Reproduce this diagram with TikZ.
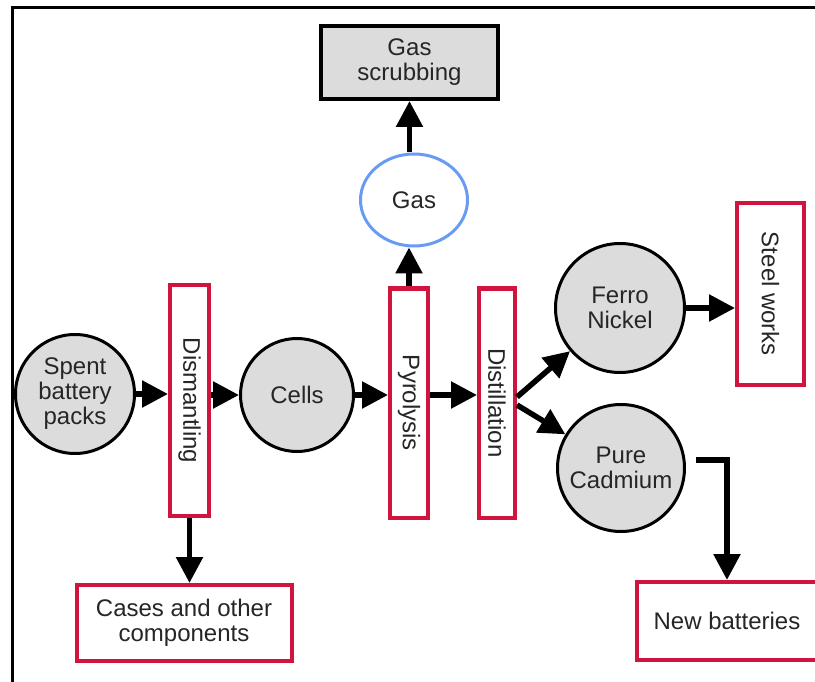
\documentclass[tikz,border=0pt]{standalone}
\usepackage{fontspec}
\setmainfont{Liberation Sans}
\usetikzlibrary{arrows.meta,shapes.geometric}
\definecolor{boxred}{RGB}{208,20,62}
\definecolor{gasblue}{RGB}{105,155,245}
\definecolor{nodegray}{RGB}{220,220,220}

\begin{document}
\begin{tikzpicture}[x=1pt,y=-1pt,>={Triangle[length=26pt,width=26pt]}]
 \tikzstyle{txt} = [font=\fontsize{24}{25}\selectfont,text=black!85,align=center,inner sep=0]
 \tikzstyle{stage} = [txt,draw=boxred,line width=4pt,fill=white]
 \tikzstyle{material} = [txt,draw=black,line width=3pt,fill=nodegray,circle]
 \tikzstyle{flow} = [->,line width=5.5pt]
 \newcommand{\colh}{229}

 \useasboundingbox (0,0) rectangle (815,682);
 % frame
 \draw[line width=3pt] (12,686) -- (12,8) -- (819,8);

 % Gas branch
 \node[txt,draw=black,line width=4pt,fill=nodegray,minimum width=177,minimum height=73] (scrub) at (409.5,62.5) {Gas\\scrubbing};
 \node[txt,draw=gasblue,line width=3pt,ellipse,minimum width=107,minimum height=92] (gas) at (414,200) {Gas};

 % Main line
 \node[material,minimum size=119] (spent) at (75,394) {Spent\\battery\\packs};
 \node[stage,minimum width=39,minimum height=\colh+2] (dism) at (189.5,400.5) {\rotatebox{-90}{Dismantling}};
 \node[material,minimum size=113] (cells) at (297,395) {Cells};
 \node[stage,minimum width=38,minimum height=\colh] (pyro) at (409,403) {\rotatebox{-90}{Pyrolysis}};
 \node[stage,minimum width=36,minimum height=\colh] (dist) at (497,403) {\rotatebox{-90}{Distillation}};
 \node[material,minimum size=129] (ferro) at (620,308) {Ferro\\Nickel};
 \node[material,minimum size=127] (cad) at (621,468) {Pure\\Cadmium};

 % Outputs
 \node[stage,minimum width=67,minimum height=182] (steel) at (770.5,294) {\rotatebox{-90}{Steel works}};
 \node[stage,minimum width=215,minimum height=76] (cases) at (184,623) {Cases and other\\components};
 \node[stage,minimum width=180,minimum height=78] (newb) at (727,621) {New batteries};

 % Arrows
 \draw[flow] (spent.east) -- (spent.east -| dism.west);
 \draw[flow] (dism.east |- cells) -- (cells.west);
 \draw[flow] (cells.east) -- (cells.east -| pyro.west);
 \draw[flow] (pyro.east |- cells) -- (dist.west |- cells);
 \draw[flow] (pyro.north) -- (pyro.north |- gas.south);
 \draw[flow] (scrub.south |- gas.north) -- (scrub.south);
 \draw[flow] ([yshift=6pt]dist.east) -- (ferro);
 \draw[flow] ([yshift=-2pt]dist.east) -- (cad);
 \draw[flow] (ferro.east) -- (ferro.east -| steel.west);
 \draw[flow] (dism.south) -- (dism.south |- cases.north);
 \draw[flow] ([xshift=10pt,yshift=8pt]cad.east) -| (newb.north);

\end{tikzpicture}
\end{document}
